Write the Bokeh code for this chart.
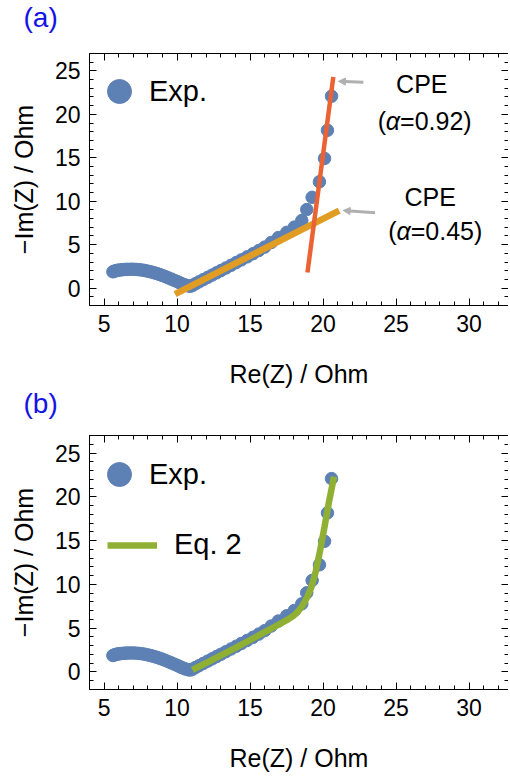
from bokeh.plotting import figure
from bokeh.models import (ColumnDataSource, SingleIntervalTicker, LinearAxis, Range1d,
                          Legend, LegendItem, Arrow, NormalHead, CustomJSTickFormatter)
from bokeh.layouts import column
from bokeh.embed import file_html
from bokeh.resources import INLINE
from bokeh.core.properties import value

# ---------------- data ----------------
# experimental impedance points (Re(Z), -Im(Z)) in Ohm
exp_re = [5.60, 5.70, 5.80, 5.90, 6.00, 6.15, 6.30, 6.45, 6.60, 6.80,
          7.00, 7.20, 7.40, 7.60, 7.80, 8.00, 8.20, 8.40, 8.60, 8.80,
          9.00, 9.20, 9.40, 9.60, 9.80, 10.00, 10.15, 10.30, 10.45, 10.60,
          10.75, 10.90, 11.05, 11.25, 11.50, 11.80, 12.10, 12.40, 12.70, 13.00,
          13.35, 13.70, 14.05, 14.40, 14.80, 15.20, 15.60, 16.00, 16.45, 16.94,
          17.51, 18.03, 18.54, 18.88, 19.25, 19.75, 20.10, 20.30, 20.58]
exp_im = [1.88, 1.95, 2.00, 2.04, 2.07, 2.10, 2.13, 2.15, 2.16, 2.17,
          2.17, 2.15, 2.12, 2.08, 2.02, 1.95, 1.87, 1.78, 1.68, 1.57,
          1.45, 1.32, 1.18, 1.04, 0.90, 0.76, 0.64, 0.52, 0.42, 0.33,
          0.26, 0.22, 0.30, 0.50, 0.72, 0.98, 1.24, 1.50, 1.76, 2.02,
          2.32, 2.63, 2.94, 3.25, 3.60, 3.96, 4.33, 4.72, 5.25, 5.82,
          6.42, 7.02, 7.78, 9.04, 10.45, 12.24, 14.92, 18.16, 22.08]

# CPE straight-line fits (panel a)
cpe092_re = [18.93, 20.70]
cpe092_im = [1.80, 24.30]
cpe045_re = [9.86, 21.10]
cpe045_im = [-0.69, 8.92]

# Eq. 2 fit (panel b)
eq2_re = [11.05, 12.0, 13.0, 14.0, 15.0, 16.0, 17.0, 17.6, 18.0, 18.3,
          18.6, 18.9, 19.2, 19.5, 19.8, 20.1, 20.4, 20.75]
eq2_im = [0.25, 1.05, 1.90, 2.75, 3.65, 4.55, 5.45, 6.00, 6.45, 6.95,
          7.60, 8.50, 9.70, 11.5, 13.9, 16.6, 19.4, 22.3]

# annotation texts and where they sit (panel a)
cpe_text = ["CPE", "CPE"]
alpha_vals = ["=0.92)", "=0.45)"]
cpe_text_x = [26.76, 27.33]
cpe_text_y = [23.53, 10.47]
alpha_anchor_x = [25.27, 26.0]
alpha_anchor_y = [19.19, 6.6]
arrow_x0 = [22.76, 23.56]
arrow_y0 = [23.68, 8.66]
arrow_x1 = [21.05, 21.37]
arrow_y1 = [23.80, 8.93]

BLUE = "#5E81B5"
ORANGE = "#E19C24"
GREEN = "#8FB032"
RED = "#EB6235"
GRAY = "#B0B0B0"
FONT = "Liberation Sans"

X_RANGE = (4.0, 32.7)
Y_RANGE = (-2.0, 27.0)


def style_axis(ax, show_labels):
    ax.ticker = SingleIntervalTicker(interval=5, num_minor_ticks=5)
    ax.axis_line_color = "black"
    ax.axis_line_width = 1
    ax.major_tick_in = 7
    ax.major_tick_out = 0
    ax.minor_tick_in = 4
    ax.minor_tick_out = 0
    ax.major_tick_line_color = "black"
    ax.minor_tick_line_color = "black"
    ax.major_label_text_font = FONT
    ax.axis_label_text_font = FONT
    ax.axis_label_text_font_style = "normal"
    ax.axis_label_text_color = "black"
    ax.major_label_text_color = "black"
    if show_labels:
        ax.major_label_text_font_size = "23px"
        ax.axis_label_text_font_size = "25px"
        ax.major_label_standoff = 9
    else:
        ax.formatter = CustomJSTickFormatter(code="return '';")
        ax.major_label_text_font_size = "2px"
        ax.major_label_standoff = 0
        ax.axis_label = None


def make_tag(height, tag, standoff):
    # thin strip whose title carries the panel letter above each plot
    t = figure(width=508, height=height, output_backend="svg", toolbar_location=None,
               x_range=Range1d(0, 1), y_range=Range1d(0, 1),
               x_axis_type=None, y_axis_type=None, min_border=0,
               outline_line_color=None, background_fill_color="white",
               border_fill_color="white", title=tag)
    t.grid.visible = False
    t.title.text_color = "#1414E6"
    t.title.text_font = FONT
    t.title.text_font_size = "28px"
    t.title.text_font_style = "normal"
    t.title.align = "left"
    t.title.vertical_align = "top"
    t.title.offset = -66
    t.title.standoff = standoff
    return t


def make_panel(height, top_border, bottom_border):
    p = figure(width=508, height=height, output_backend="svg", toolbar_location=None,
               x_range=Range1d(*X_RANGE), y_range=Range1d(*Y_RANGE),
               min_border_left=89, min_border_right=0, min_border_top=top_border,
               min_border_bottom=bottom_border, background_fill_color="white",
               border_fill_color="white", outline_line_color=None)
    p.grid.visible = False
    p.xaxis.axis_label = "Re(Z) / Ohm"
    p.yaxis.axis_label = "\u2212Im(Z) / Ohm"
    style_axis(p.xaxis[0], True)
    style_axis(p.yaxis[0], True)
    p.xaxis.axis_label_standoff = 25
    p.yaxis.axis_label_standoff = 14
    top = LinearAxis()
    right = LinearAxis()
    p.add_layout(top, "above")
    p.add_layout(right, "right")
    style_axis(top, False)
    style_axis(right, False)
    return p


exp_src = ColumnDataSource(dict(x=exp_re, y=exp_im))
LEG = dict(label_standoff=0, padding=0, margin=0, border_line_alpha=0,
           background_fill_alpha=0, label_text_font=FONT, label_text_font_size="29px",
           label_text_color="black")

# ---------------- panel (a) ----------------
tag_a = make_tag(38, "(a)", 8)
pa = make_panel(352, 15, 83)
ra = pa.scatter("x", "y", source=exp_src, size=12.5, fill_color=BLUE, line_color=BLUE)
pa.line(cpe045_re, cpe045_im, line_color=ORANGE, line_width=6.5)
pa.line(cpe092_re, cpe092_im, line_color=RED, line_width=4.5)

arrow_src = ColumnDataSource(dict(x0=arrow_x0, y0=arrow_y0, x1=arrow_x1, y1=arrow_y1))
pa.add_layout(Arrow(source=arrow_src, x_start="x0", y_start="y0", x_end="x1", y_end="y1",
                    line_color=GRAY, line_width=3,
                    end=NormalHead(size=7, fill_color=GRAY, line_color=GRAY)))

cpe_src = ColumnDataSource(dict(x=cpe_text_x, y=cpe_text_y, t=cpe_text))
pa.text("x", "y", text="t", source=cpe_src, text_font=value(FONT), text_font_size=value("25px"),
        text_align="center", text_baseline="middle", text_color="black")
al_src = ColumnDataSource(dict(x=alpha_anchor_x, y=alpha_anchor_y, t=alpha_vals,
                               a=["\u03b1", "\u03b1"], o=["(", "("]))
pa.text("x", "y", text="t", source=al_src, text_font=value(FONT), text_font_size=value("25px"),
        text_align="left", text_baseline="middle", text_color="black")
pa.text("x", "y", text="a", source=al_src, text_font=value(FONT), text_font_size=value("25px"),
        text_font_style="italic", text_align="right", text_baseline="middle", text_color="black")
pa.text("x", "y", text="o", source=al_src, text_font=value(FONT), text_font_size=value("25px"),
        x_offset=-14, text_align="right", text_baseline="middle", text_color="black")

pa.add_layout(Legend(items=[LegendItem(label="Exp.", renderers=[ra])], location=(0, 184),
                     glyph_width=60, glyph_height=60, **LEG))

# ---------------- panel (b) ----------------
tag_b = make_tag(30, "(b)", 0)
pb = make_panel(358, 15, 89)
rb = pb.scatter("x", "y", source=exp_src, size=12.5, fill_color=BLUE, line_color=BLUE)
fit_b = pb.line(eq2_re, eq2_im, line_color=GREEN, line_width=6.5)

pb.add_layout(Legend(items=[LegendItem(label="Exp.", renderers=[rb])], location=(0, 185),
                     glyph_width=60, glyph_height=60, **LEG))
LEG2 = dict(LEG, label_standoff=17)
pb.add_layout(Legend(items=[LegendItem(label="Eq. 2", renderers=[fit_b])], location=(18, 128),
                     glyph_width=50, glyph_height=20, **LEG2))

layout = column(tag_a, pa, tag_b, pb, spacing=0)
open("out.html", "w").write(file_html(layout, INLINE))
